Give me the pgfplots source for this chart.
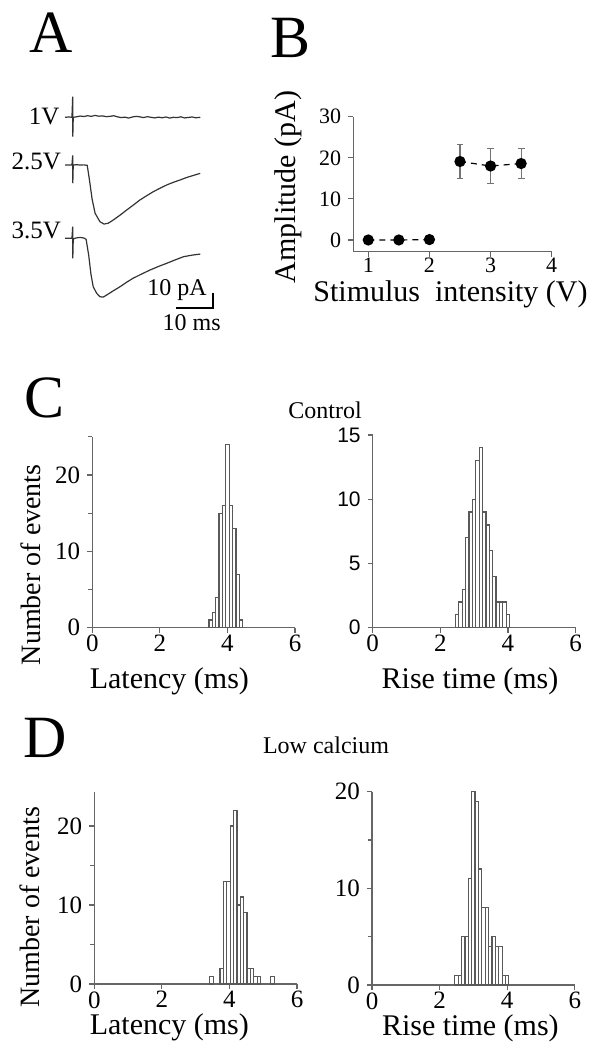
\documentclass[border=0pt]{standalone}
\usepackage{fontspec}
\setmainfont{Liberation Serif}
\setsansfont{Liberation Sans}
\usepackage{pgfplots}
\pgfplotsset{compat=1.18}

\pgfplotsset{
  panel/.style={
    scale only axis, anchor=south west, clip=false,
    axis x line*=bottom, axis y line*=left,
    tick align=outside,
    major tick length=2.5pt, minor tick length=2pt,
    axis line style={black!60, line width=0.6pt},
    tick style={black!60, line width=0.6pt},
    /pgf/number format/assume math mode=true,
    label style={font=\fontsize{15}{17}\selectfont},
    xticklabel style={inner sep=1pt},
  },
  hist/.style={
    panel, width=101.4pt, xmin=0, xmax=6, ymin=0, xtick={0,2,4,6},
    tick label style={font=\fontsize{12.5}{14}\selectfont},
    ylabel style={font=\fontsize{14}{16}\selectfont},
    ybar, bar width=0.1,
  },
  histbar/.style={fill=white, draw=black!65, line width=0.6pt},
}

\begin{document}
\begin{tikzpicture}
\path[use as bounding box] (0,0) rectangle (296pt,-521pt);

% panel letters and titles
\node[font=\fontsize{30}{32}\selectfont] at (25.5pt,-16.5pt) {A};
\node[font=\fontsize{30}{32}\selectfont] at (145.5pt,-19pt) {B};
\node[font=\fontsize{30}{32}\selectfont] at (22.5pt,-199pt) {C};
\node[font=\fontsize{30}{32}\selectfont] at (22.5pt,-369pt) {D};
\node[font=\fontsize{12}{14}\selectfont] at (162.5pt,-205pt) {Control};
\node[font=\fontsize{12}{14}\selectfont] at (163pt,-372.5pt) {Low calcium};

% ---------- A: current traces
\begin{axis}[at={(30.75pt,-160.7pt)}, anchor=south west, scale only axis,
  width=80.2pt, height=117.75pt, xmin=-3, xmax=40, ymin=-130, ymax=20,
  hide axis, clip=false]
\addplot[black!80, line width=0.6pt] coordinates {
  (-2.06,0) (-1,0.2) (-0.2,0) (0,13.1) (0.03,-12.3) (0.15,0)
  (1,0.3) (2,0.8) (3,0.5) (4,1.0) (5,0.6) (6,1.2) (7,0.7) (8,0.9) (9,0.4)
  (10,0.6) (11,1.0) (12,0.3) (13,-0.2) (14,0.1) (15,-0.5) (16,0.2) (17,0.6)
  (18,0.3) (19,-0.2) (20,0.4) (21,0.0) (22,-0.4) (23,0.1) (24,-0.3) (25,0.2)
  (26,-0.5) (27,0.0) (28,-0.2) (29,0.3) (30,-0.4) (31,-0.1) (32,0.2) (33,-0.3) (34.2,0)
};
\addplot[black!80, line width=0.6pt] coordinates {
  (-2.06,-30.4) (-0.2,-30.4) (0,-24.3) (0.03,-42) (0.15,-30.4) (1,-30.2)
  (2,-30.4) (3,-30.3) (3.9,-30.6) (4.5,-40) (5.2,-52) (6.0,-61.1) (7.3,-66.5)
  (8.4,-68.0) (9.5,-67.5) (10.9,-65.4) (12.7,-62.3) (14.5,-59.0) (16.3,-55.8)
  (18.0,-52.7) (19.8,-50.0) (21.6,-47.4) (23.4,-45.2) (25.2,-43.1) (27,-41.4)
  (28.8,-39.9) (30.6,-38.3) (32.4,-37.0) (34.2,-35.7)
};
\addplot[black!80, line width=0.6pt] coordinates {
  (-2.06,-77.1) (-0.2,-77.1) (0,-69.7) (0.03,-89.8) (0.15,-77.5) (1,-76.8)
  (2,-76.5) (3,-76.9) (3.6,-77.7) (4.3,-88) (4.9,-100) (5.5,-107.9) (6.4,-112)
  (7.3,-114.3) (8.2,-114.5) (9.1,-113.2) (10.9,-110.5) (12.7,-107.9) (14.5,-105)
  (16.2,-102.5) (18.5,-99.8) (20.7,-97.3) (23,-95) (25.2,-93.0) (27.5,-90.8)
  (29.7,-88.8) (32,-87.8) (34.2,-87.1)
};
% scale bar
\addplot[black, line width=1pt] coordinates {(27.7,-121.7) (37.7,-121.7) (37.7,-111.7)};
\node[anchor=east, inner sep=1pt, font=\fontsize{12}{14}\selectfont] at (axis cs:36.6,-110) {10 pA};
\node[font=\fontsize{12}{14}\selectfont] at (axis cs:31.9,-130.5) {10 ms};
\node[anchor=east, inner sep=1pt, font=\fontsize{12.5}{14}\selectfont] at (axis cs:-2.9,0.4) {1V};
\node[anchor=east, inner sep=1pt, font=\fontsize{12.5}{14}\selectfont] at (axis cs:-2.5,-28.3) {2.5V};
\node[anchor=east, inner sep=1pt, font=\fontsize{12.5}{14}\selectfont] at (axis cs:-2.5,-71.8) {3.5V};
\end{axis}

% ---------- B: amplitude vs stimulus
\begin{axis}[panel, at={(176.65pt,-125.85pt)}, width=99.2pt, height=67.5pt,
  xmin=0.755, xmax=4, ymin=-2.85, ymax=30,
  xtick={1,2,3,4}, ytick={0,10,20,30},
  tick label style={font=\fontsize{11}{13}\selectfont},
  xticklabel style={inner sep=0.5pt},
  xlabel={Stimulus\ \ intensity (V)}, ylabel={Amplitude (pA)},
  xlabel style={at={(axis description cs:0.49,-0.315)}, anchor=center, inner sep=0pt},
  ylabel style={at={(axis description cs:-0.328,0.48)}, anchor=center}]
\addplot[black, line width=0.6pt, dash pattern=on 3pt off 2.5pt,
  mark=*, mark size=2.5pt, mark options={solid},
  error bars/.cd, y dir=both, y explicit,
  error bar style={black!55, line width=0.6pt, solid},
  error mark options={rotate=90, mark size=1.7pt, black!55, solid}]
  coordinates {(1,0) +- (0,0.3) (1.5,0) +- (0,0.3) (2,0.1) +- (0,0.3)};
\addplot[black, line width=0.6pt, dash pattern=on 3pt off 2.5pt,
  mark=*, mark size=2.5pt, mark options={solid},
  error bars/.cd, y dir=both, y explicit,
  error bar style={black!55, line width=0.6pt, solid},
  error mark options={rotate=90, mark size=1.7pt, black!55, solid}]
  coordinates {(2.5,19.1) +- (0,4.2) (3,18.0) +- (0,4.2) (3.5,18.6) +- (0,3.6)};
\end{axis}

% ---------- C left: latency, control
\begin{axis}[hist, at={(46.15pt,-313.85pt)}, height=95.4pt, ymax=25,
  ytick={0,10,20}, minor ytick={5,15,25},
  xlabel={Latency (ms)}, ylabel={Number of events},
  xlabel style={at={(axis description cs:0.38,-0.28)}, anchor=center},
  ylabel style={at={(axis description cs:-0.305,0.33)}, anchor=center}]
\addplot[histbar] coordinates {
  (3.5,1) (3.6,2) (3.7,4) (3.8,15) (3.9,16) (4.0,24) (4.1,16) (4.2,13) (4.3,7) (4.4,1)};
\end{axis}

% ---------- C right: rise time, control
\begin{axis}[hist, at={(186.35pt,-313.85pt)}, height=96.35pt, ymax=15,
  ytick={0,5,10,15},
  yticklabel style={font=\fontsize{10.5}{12}\sffamily},
  xlabel={Rise time (ms)},
  xlabel style={at={(axis description cs:0.48,-0.28)}, anchor=center}]
\addplot[histbar] coordinates {
  (2.5,1) (2.6,2) (2.7,3) (2.8,7) (2.9,9) (3.0,10) (3.1,13) (3.2,14)
  (3.3,9) (3.4,8) (3.5,6) (3.6,4) (3.7,2) (3.8,2) (3.9,2) (4.0,1)};
\end{axis}

% ---------- D left: latency, low calcium
\begin{axis}[hist, at={(47.15pt,-492pt)}, height=96pt, ymax=24.3,
  ytick={0,10,20}, minor ytick={5,15},
  xlabel={Latency (ms)}, ylabel={Number of events},
  xlabel style={at={(axis description cs:0.37,-0.225)}, anchor=center},
  ylabel style={at={(axis description cs:-0.317,0.4)}, anchor=center}]
\addplot[histbar] coordinates {
  (3.47,1) (3.77,2) (3.87,13) (3.97,13) (4.07,20) (4.17,22) (4.27,10)
  (4.37,11) (4.47,9) (4.57,2) (4.67,2) (4.77,1) (4.87,1) (5.27,1)};
\end{axis}

% ---------- D right: rise time, low calcium
\begin{axis}[hist, at={(186pt,-492.5pt)}, height=96.65pt, ymax=20,
  ytick={0,10,20}, minor ytick={5,15},
  xlabel={Rise time (ms)},
  xlabel style={at={(axis description cs:0.485,-0.225)}, anchor=center}]
\addplot[histbar] coordinates {
  (2.5,1) (2.6,1) (2.7,5) (2.8,5) (2.9,11) (3.0,20) (3.1,19) (3.2,12)
  (3.3,8) (3.4,8) (3.5,4) (3.6,5) (3.7,4) (3.8,4) (3.9,1) (4.0,1)};
\end{axis}
\end{tikzpicture}
\end{document}
